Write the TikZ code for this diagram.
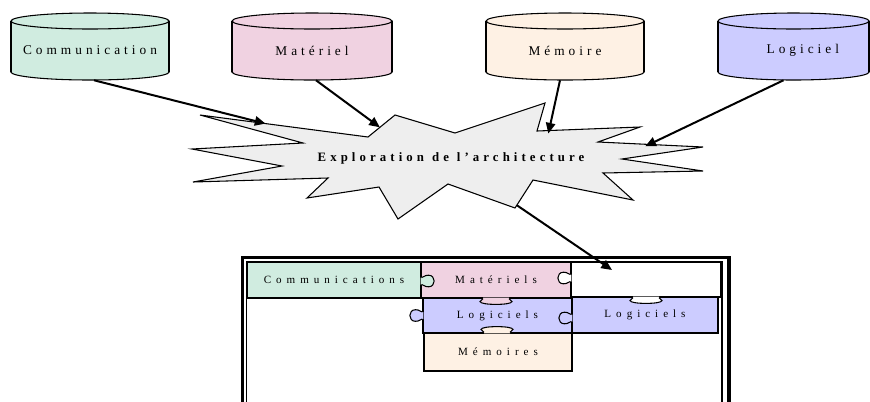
\documentclass[tikz,border=0pt]{standalone}
\usepackage{fontspec}
\setmainfont{Liberation Serif}
\newfontfamily\cylfont[LetterSpace=30]{Liberation Serif}
\newfontfamily\burstfont[LetterSpace=32]{Liberation Serif}
\newfontfamily\piecefont[LetterSpace=45]{Liberation Serif}
\usetikzlibrary{arrows.meta,calc}

\definecolor{commcol}{RGB}{208,236,224}
\definecolor{matcol}{RGB}{240,210,225}
\definecolor{memcol}{RGB}{254,241,228}
\definecolor{logcol}{RGB}{204,204,255}
\definecolor{burstcol}{RGB}{238,238,238}

% 1 unit = 1 px
\newcommand\px[1]{#1*0.75pt}
\newcommand\wordgap{\hspace{6pt}}

% database cylinder: name, left, right, colour, label, label shift
\newcommand\drawcyl[6]{%
  \pgfmathsetmacro\cylmid{(#2+#3)/2}%
  \pgfmathsetmacro\cylrad{(#3-#2)/2}%
  \filldraw[fill=#4, cylline] (\cylmid,72) ellipse[x radius=\cylrad, y radius=8];
  \fill[#4] (#2,21) rectangle (#3,72);
  \draw[cylline] (#2,21) -- (#2,72) (#3,21) -- (#3,72);
  \filldraw[fill=#4, cylline] (\cylmid,21) ellipse[x radius=\cylrad, y radius=8];
  \node[cyltext, minimum width=\px{(#3-#2)}] (#1) at (\cylmid,50.5) {\hspace*{#6}#5};
}

\begin{document}
\begin{tikzpicture}[x=0.75pt, y=-0.75pt, line join=miter]
\useasboundingbox (0,0) rectangle (870,401);
\tikzset{
  cylline/.style={line width=0.8pt},
  cyltext/.style={inner sep=0pt, minimum height=\px{59},
    font=\cylfont\fontsize{10}{12}\selectfont},
  piece/.style={draw, line width=0.8pt, inner sep=0pt,
    font=\piecefont\fontsize{8.3}{10}\selectfont},
  feed/.style={line width=1.5pt, -{Triangle[length=8pt,width=7pt]}},
  tabline/.style={line width=0.8pt},
  sidetab/.pic={
    \fill[pic actions] (-0.9,-3.5) -- (0,-3.5) .. controls (3,-3.5) and (2,-5.8) .. (7,-5.8)
      .. controls (14.5,-5.8) and (14.5,5.8) .. (7,5.8)
      .. controls (2,5.8) and (3,3.5) .. (0,3.5) -- (-0.9,3.5) -- cycle;
    \draw[tabline] (0,-3.5) .. controls (3,-3.5) and (2,-5.8) .. (7,-5.8)
      .. controls (14.5,-5.8) and (14.5,5.8) .. (7,5.8)
      .. controls (2,5.8) and (3,3.5) .. (0,3.5);
  },
  flattab/.pic={
    \fill[pic actions] (-13,-0.9) -- (-13,0) .. controls (-13,1.5) and (-16,1.5) .. (-16,3)
      .. controls (-16,6.8) and (16,6.8) .. (16,3)
      .. controls (16,1.5) and (13,1.5) .. (13,0) -- (13,-0.9) -- cycle;
    \draw[tabline] (-13,0) .. controls (-13,1.5) and (-16,1.5) .. (-16,3)
      .. controls (-16,6.8) and (16,6.8) .. (16,3)
      .. controls (16,1.5) and (13,1.5) .. (13,0);
  },
}

% ---- the four sources ----
\drawcyl{comm}{11}{169}{commcol}{Communication}{0pt}
\drawcyl{mat}{232}{392}{matcol}{Matériel}{0pt}
\drawcyl{mem}{486}{644}{memcol}{Mémoire}{0pt}
\drawcyl{logi}{718}{869}{logcol}{Logiciel}{14pt}

% ---- exploration burst ----
\coordinate (v1) at (200,115);
\coordinate (v2) at (368,137);
\coordinate (v3) at (395,115);
\coordinate (v4) at (455,133);
\coordinate (v5) at (545,103);
\coordinate (v6) at (537,131);
\coordinate (v7) at (640,127);
\coordinate (v8) at (598,142);
\coordinate (v9) at (703,147);
\coordinate (v10) at (622,159);
\coordinate (v11) at (703,171);
\coordinate (v12) at (603,173);
\coordinate (v13) at (633,200);
\coordinate (v14) at (533,180);
\coordinate (v15) at (515,208);
\coordinate (v16) at (448,184);
\coordinate (v17) at (398,219);
\coordinate (v18) at (379,187);
\coordinate (v19) at (307,198);
\coordinate (v20) at (328,178);
\coordinate (v21) at (193,182);
\coordinate (v22) at (282,166);
\coordinate (v23) at (192,149);
\coordinate (v24) at (303,143);
\filldraw[fill=burstcol, line width=0.8pt]
  (v1) -- (v2) -- (v3) -- (v4) -- (v5) -- (v6) -- (v7) -- (v8) -- (v9) -- (v10)
  -- (v11) -- (v12) -- (v13) -- (v14) -- (v15) -- (v16) -- (v17) -- (v18) -- (v19)
  -- (v20) -- (v21) -- (v22) -- (v23) -- (v24) -- cycle;
\node[font=\burstfont\bfseries\fontsize{9.6}{11}\selectfont, inner sep=0pt]
  (expl) at (451,158) {Exploration\wordgap de\wordgap l’architecture};

\coordinate (in1) at ($(v1)!0.39!(v2)$);
\coordinate (in2) at ($(v2)!0.44!(v3)$);
\coordinate (in3) at ($(v6)!0.11!(v7)+(0,3)$);
\coordinate (in4) at ($(v8)!0.45!(v9)+(0,2)$);
\coordinate (out5) at ($(v14)!0.9!(v15)$);

% ---- assembled architecture ----
\node[piece, fill=commcol, minimum width=\px{174}, minimum height=\px{36}]
  (pcomm) at (334,280) {Communications};
\node[piece, fill=matcol, minimum width=\px{150}, minimum height=\px{36}]
  (pmat) at (496,280) {Matériels};
\node[piece, fill=white, minimum width=\px{150}, minimum height=\px{35}]
  (pwhite) at (646,279.5) {};
\node[piece, fill=logcol, minimum width=\px{146}, minimum height=\px{36}]
  (plogr) at (645,315) {Logiciels};
\node[piece, fill=logcol, minimum width=\px{149}, minimum height=\px{35}]
  (plogm) at (497.5,315.5) {Logiciels};
\node[piece, fill=memcol, minimum width=\px{148}, minimum height=\px{38}]
  (pmem) at (498,352) {Mémoires};

% interlocking tabs
\pic[fill=commcol] at ([yshift=\px{-1}]pcomm.east) {sidetab};
\pic[fill=white, xscale=-1] at ([yshift=\px{1.5}]pwhite.west) {sidetab};
\pic[fill=logcol, xscale=-1] at (plogm.west) {sidetab};
\pic[fill=logcol, xscale=-1] at ([yshift=\px{-3}]plogr.west) {sidetab};
\pic[fill=matcol] at (pmat.south) {flattab};
\pic[fill=white] at (pwhite.south) {flattab};
\pic[fill=memcol, yscale=-1] at ([xshift=\px{-1}]pmem.north) {flattab};

% double frame
\draw[line width=2.6pt] (242.5,420) -- (242.5,257.5) -- (729,257.5) -- (729,420);
\draw[line width=0.8pt] (246.5,420) -- (246.5,261.5) -- (722,261.5) -- (722,420);

\coordinate (land) at (612,270);

% ---- connectors ----
\draw[feed] ([xshift=\px{4}]comm.south) -- (in1);
\draw[feed] ([xshift=\px{4}]mat.south) -- (in2);
\draw[feed] ([xshift=\px{-5}]mem.south) -- (in3);
\draw[feed] ([xshift=\px{-10}]logi.south) -- (in4);
\draw[feed] (out5) -- (land);
\end{tikzpicture}
\end{document}
